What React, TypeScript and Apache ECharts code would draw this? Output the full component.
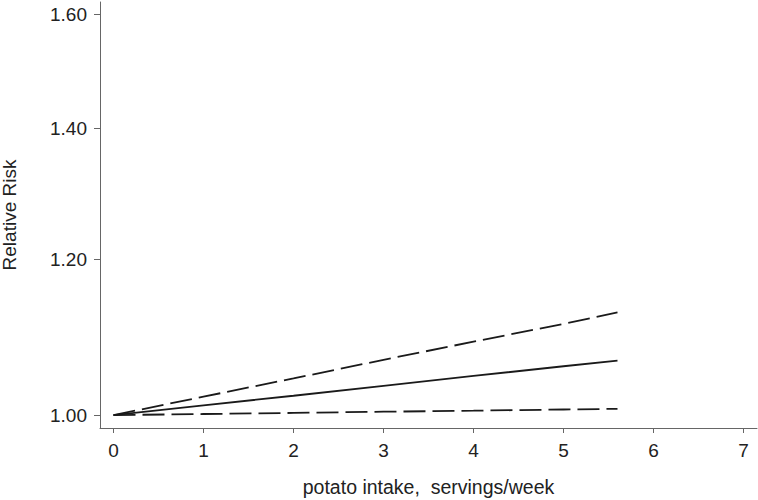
import React, { useEffect, useRef } from "react";
import * as echarts from "echarts";

// potato intake (servings/week)
const intake = [0, 1, 2, 3, 4, 5, 5.6];
// relative risk estimates
const rrEstimate = [1.0, 1.0115, 1.023, 1.035, 1.047, 1.059, 1.066];
const rrUpper = [1.0, 1.0219, 1.044, 1.067, 1.09, 1.113, 1.128];
const rrLower = [1.0, 1.0013, 1.0026, 1.004, 1.0052, 1.0066, 1.0074];
const xTicks = [0, 1, 2, 3, 4, 5, 6, 7];
const yTicks = [1.0, 1.2, 1.4, 1.6];

const FONT = "'Liberation Sans', Arial, sans-serif";

export default function App() {
  const ref = useRef<HTMLDivElement>(null);
  useEffect(() => {
    document.body.style.margin = "0";
    const chart = echarts.init(ref.current!, null, { renderer: "svg" });
    const toPts = (ys: number[]) => intake.map((x, i) => [x, Math.log(ys[i])]);
    const lineBase = { type: "line", showSymbol: false, symbol: "none", silent: true };
    chart.setOption({
      animation: false,
      backgroundColor: "#ffffff",
      grid: {
        left: 100,
        right: 1,
        top: 2,
        bottom: 72,
        containLabel: false,
        outerBoundsMode: "none",
      },
      xAxis: {
        type: "value",
        min: -0.15,
        max: 7.15,
        name: "potato intake,  servings/week",
        nameLocation: "middle",
        nameGap: 49,
        nameMoveOverlap: false,
        nameTextStyle: { fontFamily: FONT, fontSize: 19.5, color: "#222" },
        axisLine: { show: true, onZero: false, lineStyle: { color: "#666", width: 1 } },
        axisTick: { show: true, length: 5, customValues: xTicks, lineStyle: { color: "#666" } },
        axisLabel: {
          customValues: xTicks,
          margin: 13,
          fontFamily: FONT,
          fontSize: 19,
          color: "#222",
        },
        splitLine: { show: false },
      },
      yAxis: {
        type: "value",
        min: Math.log(0.985),
        max: Math.log(1.6236),
        name: "Relative Risk",
        nameLocation: "middle",
        nameGap: 81,
        nameMoveOverlap: false,
        nameTextStyle: { fontFamily: FONT, fontSize: 19, color: "#222" },
        axisLine: { show: true, onZero: false, lineStyle: { color: "#666", width: 1 } },
        axisTick: {
          show: true,
          length: 6,
          customValues: yTicks.map((v) => Math.log(v)),
          lineStyle: { color: "#666" },
        },
        axisLabel: {
          customValues: yTicks.map((v) => Math.log(v)),
          formatter: (v: number) => Math.exp(v).toFixed(2),
          margin: 13,
          fontFamily: FONT,
          fontSize: 19,
          color: "#222",
        },
        splitLine: { show: false },
      },
      series: [
        {
          ...lineBase,
          name: "upper",
          data: toPts(rrUpper),
          lineStyle: { color: "#1a1a1a", width: 1.8, type: [22, 7] },
        },
        {
          ...lineBase,
          name: "estimate",
          data: toPts(rrEstimate),
          lineStyle: { color: "#1a1a1a", width: 1.8, type: "solid" },
        },
        {
          ...lineBase,
          name: "lower",
          data: toPts(rrLower),
          lineStyle: { color: "#1a1a1a", width: 1.8, type: [22, 7] },
        },
      ],
    });
    return () => chart.dispose();
  }, []);
  return <div ref={ref} style={{ width: 758, height: 500 }} />;
}
